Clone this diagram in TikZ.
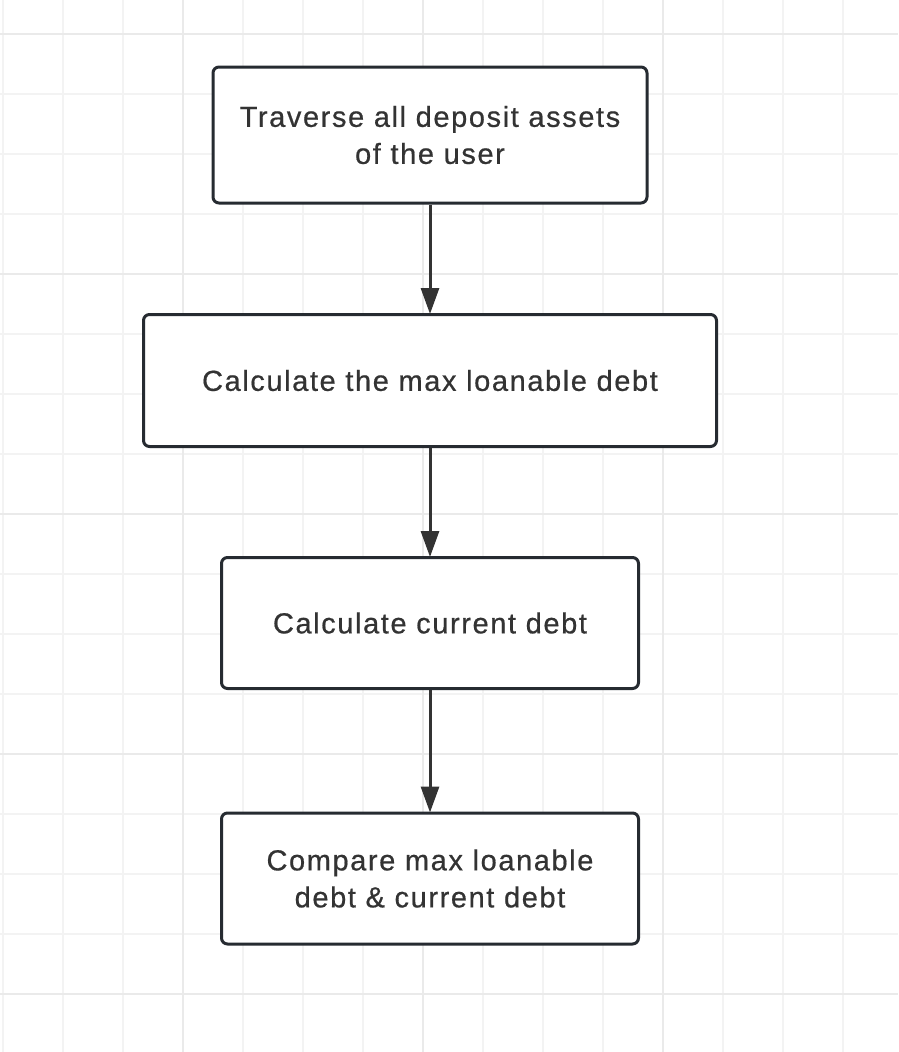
\documentclass[tikz,border=0pt]{standalone}
\usepackage{fontspec}
\setmainfont{Liberation Sans}
\usetikzlibrary{arrows.meta}
\definecolor{gridminor}{HTML}{F3F3F3}
\definecolor{gridmajor}{HTML}{EAEAEA}
\definecolor{boxline}{HTML}{262B31}
\definecolor{arrowcol}{HTML}{333333}
\definecolor{txt}{HTML}{333333}
\tikzset{
  stepbox/.style={draw=boxline, line width=3pt, rounded corners=6pt, fill=white,
    inner sep=0pt, align=center, text=txt,
    font=\addfontfeature{LetterSpace=5.5,FakeBold=0.6}\fontsize{29}{37}\selectfont},
  flow/.style={draw=arrowcol, line width=3pt,
    -{Triangle[length=26pt,width=18pt]}, shorten >=-1pt},
}
\begin{document}
\begin{tikzpicture}[x=1pt,y=-1pt]
\useasboundingbox (0,0) rectangle (898,1052);
\fill[white] (0,0) rectangle (898,1052);
% minor grid
\foreach \i in {0,...,14} {\draw[gridminor, line width=1.8pt] ({3+60*\i},0) -- ({3+60*\i},1052);}
\foreach \j in {0,...,16} {\draw[gridminor, line width=1.8pt] (0,{34+60*\j}) -- (898,{34+60*\j});}
% major grid
\foreach \i in {183,423,663} {\draw[gridmajor, line width=1.8pt] (\i,0) -- (\i,1052);}
\foreach \j in {34,274,514,754,994} {\draw[gridmajor, line width=1.8pt] (0,\j) -- (898,\j);}
% boxes
\node[stepbox, minimum width=434pt, minimum height=136pt] (b1) at (430,135) {Traverse all deposit assets\\of the user};
\node[stepbox, minimum width=573pt, minimum height=132pt] (b2) at (430,380.5) {Calculate the max loanable debt};
\node[stepbox, minimum width=417pt, minimum height=131pt] (b3) at (430,623) {Calculate current debt};
\node[stepbox, minimum width=417pt, minimum height=131pt] (b4) at (430,878.5) {Compare max loanable\\debt \& current debt};
% arrows
\draw[flow] (b1.south) -- (b2.north);
\draw[flow] (b2.south) -- (b3.north);
\draw[flow] (b3.south) -- (b4.north);
\end{tikzpicture}
\end{document}
